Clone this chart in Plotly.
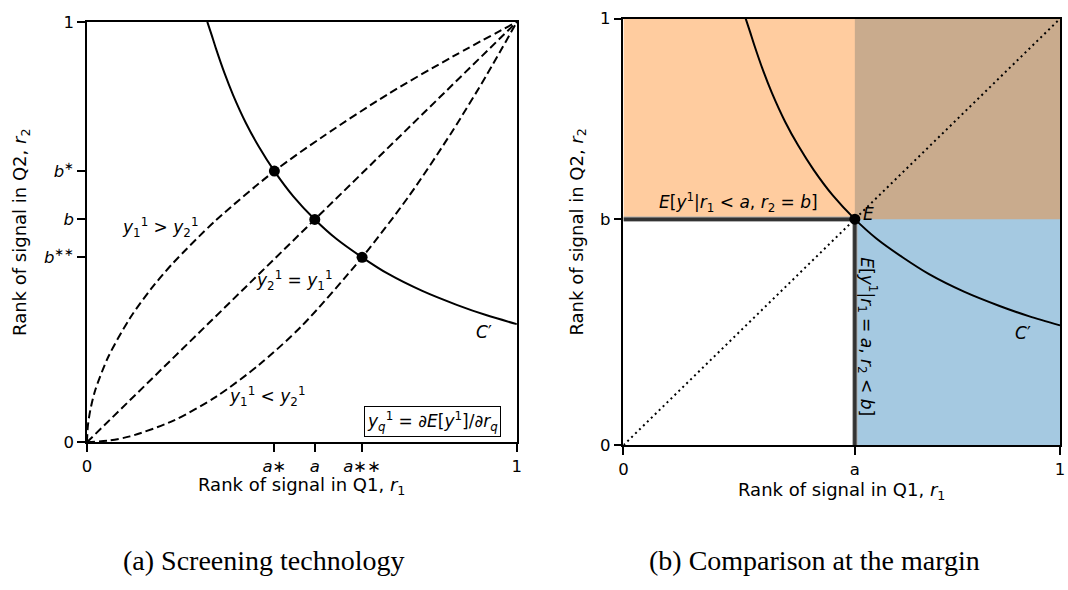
import plotly.graph_objects as go

# ---- data ----
a_star, a_mid, a_ss = 0.436, 0.53, 0.64
b_ss, b_mid, b_star = 0.44, 0.53, 0.645

# indifference curve C'
c_x = [0.28, 0.29, 0.30, 0.32, 0.34, 0.37, 0.40, 0.436, 0.48, 0.53, 0.58, 0.64, 0.70, 0.78, 0.86, 0.93, 1.0]
c_y = [1.0, 0.969, 0.937, 0.878, 0.826, 0.759, 0.703, 0.645, 0.585, 0.530, 0.484, 0.440, 0.401, 0.360, 0.327, 0.302, 0.281]

# upper dashed curve (y1 > y2 side)
up_x = [0, 0.002, 0.005, 0.01, 0.02, 0.05, 0.1, 0.15, 0.2, 0.3, 0.436, 0.55, 0.7, 0.85, 1.0]
up_y = [0, 0.037, 0.060, 0.087, 0.126, 0.204, 0.295, 0.366, 0.426, 0.528, 0.645, 0.728, 0.828, 0.917, 1.0]

# diagonal
dg_x = [0, 1]
dg_y = [0, 1]

# lower dashed curve (y1 < y2 side)
lo_x = [0, 0.05, 0.1, 0.2, 0.3, 0.4, 0.5, 0.64, 0.75, 0.85, 0.93, 1.0]
lo_y = [0, 0.004, 0.014, 0.051, 0.108, 0.184, 0.277, 0.440, 0.587, 0.740, 0.874, 1.0]

dots_x = [a_star, a_mid, a_ss]
dots_y = [b_star, b_mid, b_ss]

a_r, b_r = 0.53, 0.53

FONT = "DejaVu Sans"
W, H = 1068, 590

fig = go.Figure()

dash = "8px,4px"
# left panel
for xs, ys in [(up_x, up_y), (dg_x, dg_y), (lo_x, lo_y)]:
    fig.add_trace(go.Scatter(x=xs, y=ys, mode="lines", line=dict(color="black", width=2, dash=dash, shape="spline", smoothing=0.8),
                             xaxis="x", yaxis="y", hoverinfo="skip", showlegend=False))
fig.add_trace(go.Scatter(x=c_x, y=c_y, mode="lines", line=dict(color="black", width=2, shape="spline", smoothing=0.8),
                         xaxis="x", yaxis="y", showlegend=False))
fig.add_trace(go.Scatter(x=dots_x, y=dots_y, mode="markers", marker=dict(color="black", size=11),
                         xaxis="x", yaxis="y", showlegend=False, cliponaxis=False))

# right panel
fig.add_trace(go.Scatter(x=dg_x, y=dg_y, mode="lines", line=dict(color="black", width=2, dash="2px,3.5px"),
                         xaxis="x2", yaxis="y2", showlegend=False))
for xs, ys in [([0, a_r], [b_r, b_r]), ([a_r, a_r], [0, b_r])]:
    fig.add_trace(go.Scatter(x=xs, y=ys, mode="lines", line=dict(color="#b0b0b0", width=5.5),
                             xaxis="x2", yaxis="y2", showlegend=False, cliponaxis=False))
    fig.add_trace(go.Scatter(x=xs, y=ys, mode="lines", line=dict(color="#333333", width=3.5),
                             xaxis="x2", yaxis="y2", showlegend=False, cliponaxis=False))
fig.add_trace(go.Scatter(x=c_x, y=c_y, mode="lines", line=dict(color="black", width=2, shape="spline", smoothing=0.8),
                         xaxis="x2", yaxis="y2", showlegend=False))
fig.add_trace(go.Scatter(x=[a_r], y=[b_r], mode="markers", marker=dict(color="black", size=11),
                         xaxis="x2", yaxis="y2", showlegend=False, cliponaxis=False))

# shaded regions (blue first, orange on top -> brown overlap)
fig.add_shape(type="rect", xref="x2", yref="y2", x0=a_r, x1=1, y0=0, y1=1,
              fillcolor="rgba(31,119,180,0.4)", line=dict(width=0), layer="below")
fig.add_shape(type="rect", xref="x2", yref="y2", x0=0, x1=1, y0=b_r, y1=1,
              fillcolor="rgba(255,127,14,0.4)", line=dict(width=0), layer="below")

axis_common = dict(range=[0, 1], showline=True, linecolor="black", linewidth=1.5, mirror=True,
                   ticks="outside", ticklen=8, tickwidth=1.5, tickcolor="black",
                   showgrid=False, zeroline=False, tickmode="array",
                   tickfont=dict(family=FONT, size=16.5, color="black"), fixedrange=True)

fig.update_layout(
    width=W, height=H, margin=dict(l=0, r=0, t=0, b=0),
    paper_bgcolor="white", plot_bgcolor="white",
    font=dict(family=FONT, color="black"),
    xaxis=dict(domain=[82.7 / W, 516.7 / W], anchor="y",
               tickvals=[0, a_star, a_mid, a_ss, 1],
               ticktext=["0", "<i>a</i>∗", "<i>a</i>", "<i>a</i>∗∗", "1"], **axis_common),
    yaxis=dict(domain=[1 - 447.7 / H, 1 - 13.3 / H], anchor="x",
               tickvals=[0, b_ss, b_mid, b_star, 1],
               ticktext=["0", "<i>b</i><sup>∗∗</sup>", "<i>b</i>", "<i>b</i><sup>∗</sup>", "1"], **axis_common),
    xaxis2=dict(domain=[624.3 / W, 1065 / W], anchor="y2",
                tickvals=[0, a_r, 1], ticktext=["0", "a", "1"], **axis_common),
    yaxis2=dict(domain=[1 - 450.7 / H, 1 - 10 / H], anchor="x2",
                tickvals=[0, b_r, 1], ticktext=["0", "b", "1"], **axis_common),
)

ann = []
tf = dict(family=FONT, size=17, color="black")
# left panel text
ann.append(dict(x=0.171, y=0.510, xref="x", yref="y", text="<i>y</i><sub>1</sub><sup>1</sup> &gt; <i>y</i><sub>2</sub><sup>1</sup>", showarrow=False, font=tf))
ann.append(dict(x=0.482, y=0.385, xref="x", yref="y", text="<i>y</i><sub>2</sub><sup>1</sup> = <i>y</i><sub>1</sub><sup>1</sup>", showarrow=False, font=tf))
ann.append(dict(x=0.421, y=0.108, xref="x", yref="y", text="<i>y</i><sub>1</sub><sup>1</sup> &lt; <i>y</i><sub>2</sub><sup>1</sup>", showarrow=False, font=tf))
ann.append(dict(x=0.924, y=0.263, xref="x", yref="y", text="<i>C</i>′", showarrow=False, font=tf))
ann.append(dict(x=0.804, y=0.050, xref="x", yref="y",
                text="<i>y</i><sub><i>q</i></sub><sup>1</sup> = ∂<i>E</i>[<i>y</i><sup>1</sup>]/∂<i>r</i><sub><i>q</i></sub>",
                showarrow=False, font=dict(family=FONT, size=17, color="black"),
                bordercolor="black", borderwidth=1, borderpad=2, bgcolor="white"))
# right panel text
ann.append(dict(x=0.2625, y=0.570, xref="x2", yref="y2",
                text="<i>E</i>[<i>y</i><sup>1</sup>|<i>r</i><sub>1</sub> &lt; <i>a</i>, <i>r</i><sub>2</sub> = <i>b</i>]",
                showarrow=False, font=tf))
ann.append(dict(x=0.545, y=0.542, xref="x2", yref="y2", text="<i>E</i>", xanchor="left",
                showarrow=False, font=tf))
ann.append(dict(x=0.558, y=0.255, xref="x2", yref="y2", textangle=90,
                text="<i>E</i>[<i>y</i><sup>1</sup>|<i>r</i><sub>1</sub> = <i>a</i>, <i>r</i><sub>2</sub> &lt; <i>b</i>]",
                showarrow=False, font=tf))
ann.append(dict(x=0.916, y=0.263, xref="x2", yref="y2", text="<i>C</i>′", showarrow=False, font=tf))

# axis titles
atf = dict(family=FONT, size=18, color="black")
ann.append(dict(x=299.7 / W, y=1 - 493 / H, xref="paper", yref="paper", text="Rank of signal in Q1, <i>r</i><sub>1</sub>",
                showarrow=False, font=atf, xanchor="center", yanchor="middle"))
ann.append(dict(x=844.6 / W, y=1 - 498.3 / H, xref="paper", yref="paper", text="Rank of signal in Q1, <i>r</i><sub>1</sub>",
                showarrow=False, font=atf, xanchor="center", yanchor="middle"))
ann.append(dict(x=16 / W, y=1 - 230.5 / H, xref="paper", yref="paper", text="Rank of signal in Q2, <i>r</i><sub>2</sub>",
                showarrow=False, font=atf, textangle=-90, xanchor="center", yanchor="middle"))
ann.append(dict(x=578 / W, y=1 - 230.4 / H, xref="paper", yref="paper", text="Rank of signal in Q2, <i>r</i><sub>2</sub>",
                showarrow=False, font=atf, textangle=-90, xanchor="center", yanchor="middle"))

# captions
cf = dict(family="Liberation Serif", size=28, color="black")
ann.append(dict(x=261 / W, y=1 - 570 / H, xref="paper", yref="paper", text="(a) Screening technology",
                showarrow=False, font=cf, xanchor="center", yanchor="middle"))
ann.append(dict(x=817 / W, y=1 - 570 / H, xref="paper", yref="paper", text="(b) Comparison at the margin",
                showarrow=False, font=cf, xanchor="center", yanchor="middle"))

fig.update_layout(annotations=ann)
fig.write_html("out.html")
